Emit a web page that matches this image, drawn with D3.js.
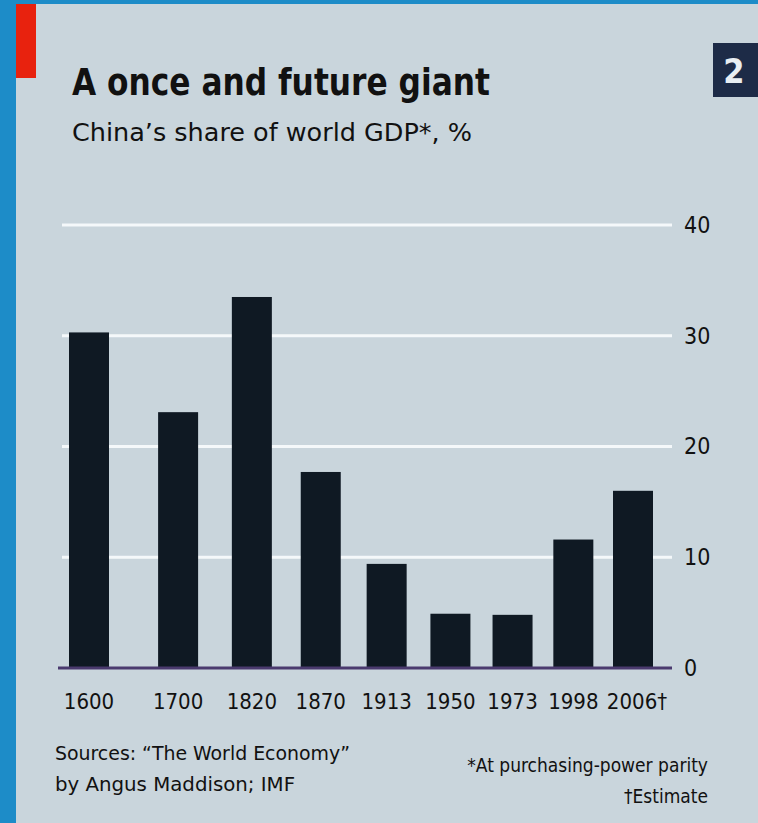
<!DOCTYPE html>
<html>
<head>
<meta charset="utf-8">
<script src="https://cdn.jsdelivr.net/npm/d3@7"></script>
<style>
  body { margin: 0; background: #1d8cc8; }
  svg { display: block; }
</style>
</head>
<body>
<div id="chart"></div>
<script>
const W = 758, H = 823;
const FONT = "'Liberation Sans Narrow', 'DejaVu Sans Condensed', sans-serif";

// data
const years = ["1600", "1700", "1820", "1870", "1913", "1950", "1973", "1998", "2006†"];
const share = [30.3, 23.1, 33.5, 17.7, 9.4, 4.9, 4.8, 11.6, 16.0];
const yTicks = [0, 10, 20, 30, 40];

const svg = d3.select("#chart").append("svg")
  .attr("width", W).attr("height", H);

// page background + blue frame
svg.append("rect").attr("width", W).attr("height", H).attr("fill", "#1d8cc8");
svg.append("rect").attr("x", 16).attr("y", 4).attr("width", W - 16).attr("height", H - 4)
  .attr("fill", "#c9d5dc");
svg.append("rect").attr("x", 16).attr("y", 4).attr("width", 20).attr("height", 74)
  .attr("fill", "#e8220e");

// title block
svg.append("text").attr("x", 72).attr("y", 95)
  .attr("font-family", FONT).attr("font-weight", "bold").attr("font-size", 38)
  .attr("fill", "#111").attr("textLength", 418).attr("lengthAdjust", "spacingAndGlyphs")
  .text("A once and future giant");
svg.append("text").attr("x", 72).attr("y", 141)
  .attr("font-family", FONT).attr("font-size", 25)
  .attr("fill", "#111").attr("textLength", 400).attr("lengthAdjust", "spacingAndGlyphs")
  .text("China’s share of world GDP*, %");

// chart number box
svg.append("rect").attr("x", 713).attr("y", 43).attr("width", 45).attr("height", 54)
  .attr("fill", "#1d2b47");
svg.append("text").attr("x", 734).attr("y", 83).attr("text-anchor", "middle")
  .attr("font-family", FONT).attr("font-weight", "bold").attr("font-size", 34)
  .attr("fill", "#e8eef2").text("2");

// scales (photo is slightly in perspective, so spacing compresses to the right)
const x = d3.scalePow().exponent(0.87).domain([0, years.length - 1]).range([89, 633]);
const y = d3.scaleLinear().domain([0, 40]).range([668, 225]);
const barW = 40;

const g = svg.append("g");

// gridlines
g.selectAll("line.grid").data(yTicks.filter(d => d > 0)).enter().append("line")
  .attr("class", "grid")
  .attr("x1", 62).attr("x2", 672)
  .attr("y1", d => y(d)).attr("y2", d => y(d))
  .attr("stroke", "#f4f8fa").attr("stroke-width", 3);

// y axis on the right, labels only
const yAxis = d3.axisRight(y).tickValues(yTicks).tickSize(0).tickPadding(0);
g.append("g").attr("transform", "translate(684,0)").call(yAxis)
  .call(a => a.select(".domain").remove())
  .selectAll("text")
  .attr("font-family", FONT).attr("font-size", 23).attr("fill", "#111");

// bars
g.selectAll("rect.bar").data(share).enter().append("rect")
  .attr("class", "bar")
  .attr("x", (d, i) => x(i) - barW / 2)
  .attr("width", barW)
  .attr("y", d => y(d))
  .attr("height", d => y(0) - y(d))
  .attr("fill", "#0f1923");

// zero line
g.append("line").attr("x1", 58).attr("x2", 672)
  .attr("y1", y(0)).attr("y2", y(0))
  .attr("stroke", "#4a3a6e").attr("stroke-width", 3);

// x labels
g.selectAll("text.xl").data(years).enter().append("text")
  .attr("class", "xl")
  .attr("x", (d, i) => x(i) + (i === years.length - 1 ? 4 : 0))
  .attr("y", 709)
  .attr("text-anchor", "middle")
  .attr("font-family", FONT).attr("font-size", 22).attr("fill", "#111")
  .text(d => d);

// footnotes
const foot = svg.append("g").attr("font-family", FONT).attr("font-size", 19).attr("fill", "#111");
foot.append("text").attr("x", 55).attr("y", 760)
  .attr("textLength", 295).attr("lengthAdjust", "spacingAndGlyphs")
  .text("Sources: “The World Economy”");
foot.append("text").attr("x", 55).attr("y", 791)
  .attr("textLength", 240).attr("lengthAdjust", "spacingAndGlyphs")
  .text("by Angus Maddison; IMF");
foot.append("text").attr("x", 708).attr("y", 772).attr("text-anchor", "end")
  .text("*At purchasing-power parity");
foot.append("text").attr("x", 708).attr("y", 803).attr("text-anchor", "end")
  .text("†Estimate");
</script>
</body>
</html>
